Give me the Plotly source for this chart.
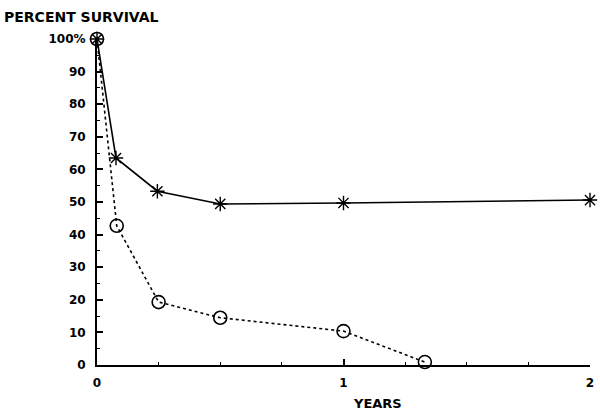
import plotly.graph_objects as go

# Data
years_solid = [0, 0.077, 0.245, 0.5, 1.0, 2.0]
surv_solid = [100, 63.5, 53.3, 49.4, 49.7, 50.6]

years_dotted = [0, 0.08, 0.25, 0.5, 1.0, 1.33]
surv_dotted = [100, 42.7, 19.3, 14.5, 10.4, 0.9]

y_tickvals = [0, 10, 20, 30, 40, 50, 60, 70, 80, 90, 100]
y_ticktext = ["0", "10", "20", "30", "40", "50", "60", "70", "80", "90", "100%"]
x_tickvals = [0, 1, 2]
x_ticktext = ["0", "1", "2"]

FONT = "DejaVu Sans"

fig = go.Figure()
fig.add_trace(go.Scatter(
    x=years_dotted, y=surv_dotted, mode="lines+markers",
    line=dict(color="black", width=1.6, dash="dot"),
    marker=dict(symbol="circle-open", size=13, color="black", line=dict(width=1.6)),
    cliponaxis=False, showlegend=False))
fig.add_trace(go.Scatter(
    x=years_solid, y=surv_solid, mode="lines+markers",
    line=dict(color="black", width=1.6),
    marker=dict(symbol="asterisk-open", size=12, color="black", line=dict(width=1.4, color="black")),
    cliponaxis=False, showlegend=False))

L, R, T, B = 97, 6, 39, 49
fig.update_layout(
    width=600, height=414,
    margin=dict(l=L, r=R, t=T, b=B),
    paper_bgcolor="white", plot_bgcolor="white",
    font=dict(family=FONT, size=12, color="black"),
    xaxis=dict(range=[0, 2], showgrid=False, zeroline=False,
               showline=True, linecolor="black", linewidth=2,
               tickvals=x_tickvals, ticktext=x_ticktext,
               ticks="inside", ticklen=6, tickwidth=1.5, tickcolor="black",
               ticklabelstandoff=6,
               minor=dict(dtick=0.25, ticks="inside", ticklen=3, tickwidth=1.2, tickcolor="black"),
               tickfont=dict(family=FONT, size=12, color="black", weight="bold")),
    yaxis=dict(range=[0, 100], showgrid=False, zeroline=False,
               showline=True, linecolor="black", linewidth=2,
               tickvals=y_tickvals, ticktext=y_ticktext,
               ticks="inside", ticklen=6, tickwidth=1.5, tickcolor="black",
               ticklabelstandoff=7,
               minor=dict(dtick=5, ticks="inside", ticklen=3, tickwidth=1.2, tickcolor="black"),
               tickfont=dict(family=FONT, size=12, color="black", weight="bold")),
)
pw, ph = 600 - L - R, 414 - T - B
fig.add_annotation(text="PERCENT SURVIVAL", xref="paper", yref="paper",
                   x=(1 - L) / pw, y=(414 - B - 17) / ph,
                   xanchor="left", yanchor="middle", showarrow=False,
                   font=dict(family=FONT, size=14, weight="bold"))
fig.add_annotation(text="YEARS", xref="paper", yref="paper",
                   x=(380 - L) / pw, y=(414 - B - 403) / ph,
                   xanchor="center", yanchor="middle", showarrow=False,
                   font=dict(family=FONT, size=13, weight="bold"))

fig.write_html("out.html", config={"displayModeBar": False},
               post_script="document.body.style.margin='0';")
